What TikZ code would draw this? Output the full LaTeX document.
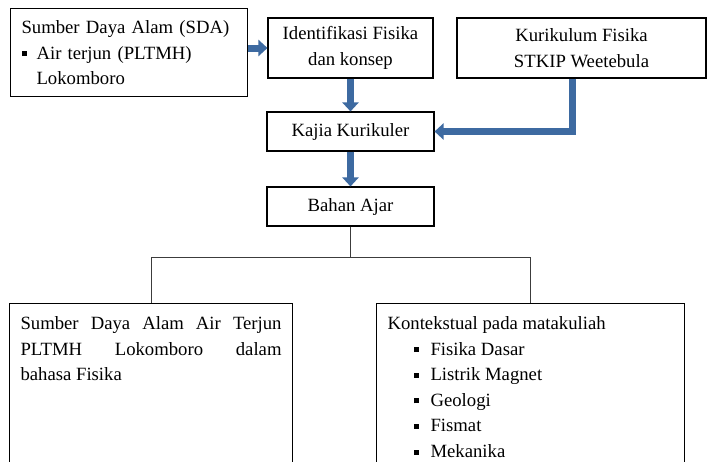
\documentclass[tikz,border=0pt]{standalone}
\usepackage{fontspec}
\setmainfont{Liberation Serif}
\usetikzlibrary{arrows.meta}
\definecolor{arrowblue}{RGB}{61,106,161}
\definecolor{linegray}{RGB}{60,60,60}

\begin{document}
\begin{tikzpicture}[
x=1pt,y=-1pt,
font=\fontsize{18.7}{25.5}\selectfont,
mybox/.style={
  draw,
  line width=1.1pt,
  inner sep=0pt
  },
listbox/.style={
  mybox,
  anchor=north west,
  inner xsep=11pt,
  inner ysep=13pt,
  font=\fontsize{18.7}{25.6}\selectfont
  },
bigarrow/.style={
  draw=arrowblue,
  line width=7pt,
  -{Triangle[length=9pt,width=16pt]}
  },
thinline/.style={draw=linegray,line width=1pt}
]
\useasboundingbox (0,0) rectangle (707,461);
\clip (0,0) rectangle (707,461);

% upper row
\node[mybox,anchor=north west,minimum width=237pt,minimum height=87pt,
  inner xsep=11pt,inner ysep=12pt,text width=215pt,align=left] (sda) at (10,8)
  {Sumber Daya Alam (SDA)\\
   \rule[3pt]{5pt}{5pt}\hspace{10pt}Air terjun (PLTMH)\\
   \hspace*{15pt}Lokomboro};
\node[mybox,minimum width=165pt,minimum height=60pt,align=center] (idf) at (350.5,48)
  {Identifikasi Fisika\\dan konsep};
\node[mybox,minimum width=249pt,minimum height=60pt,align=center] (kur) at (581.5,48)
  {Kurikulum Fisika\\STKIP Weetebula};

% middle column
\node[mybox,minimum width=167pt,minimum height=39pt] (kajia) at (350.5,131.5) {Kajia Kurikuler};
\node[mybox,minimum width=167pt,minimum height=39pt] (bahan) at (350.5,206.5) {Bahan Ajar};

% lower row
\node[listbox] (lbox) at (9,303)
  {\parbox[t][170pt][t]{261pt}{%
   \makebox[\linewidth][s]{Sumber Daya Alam Air Terjun}\\
   \makebox[\linewidth][s]{PLTMH Lokomboro dalam}\\
   bahasa Fisika}};
\node[listbox] (rbox) at (376,303)
  {\parbox[t][170pt][t]{286pt}{%
   Kontekstual pada matakuliah\\
   \hspace*{26pt}\rule[3pt]{5pt}{5pt}\hspace{12pt}Fisika Dasar\\
   \hspace*{26pt}\rule[3pt]{5pt}{5pt}\hspace{12pt}Listrik Magnet\\
   \hspace*{26pt}\rule[3pt]{5pt}{5pt}\hspace{12pt}Geologi\\
   \hspace*{26pt}\rule[3pt]{5pt}{5pt}\hspace{12pt}Fismat\\
   \hspace*{26pt}\rule[3pt]{5pt}{5pt}\hspace{12pt}Mekanika}};

% connectors
\draw[bigarrow] (sda.east |- idf.west) -- (idf.west);
\draw[bigarrow] (idf.south) -- (kajia.north);
\draw[bigarrow] ([xshift=-9.5pt]kur.south) |- (kajia.east);
\draw[bigarrow] (kajia.south) -- (bahan.north);
\coordinate (split) at ([yshift=-31pt]bahan.south);
\draw[thinline] (bahan.south) -- (split);
\draw[thinline] (lbox.north) |- (split) -| (rbox.north);
\end{tikzpicture}
\end{document}
